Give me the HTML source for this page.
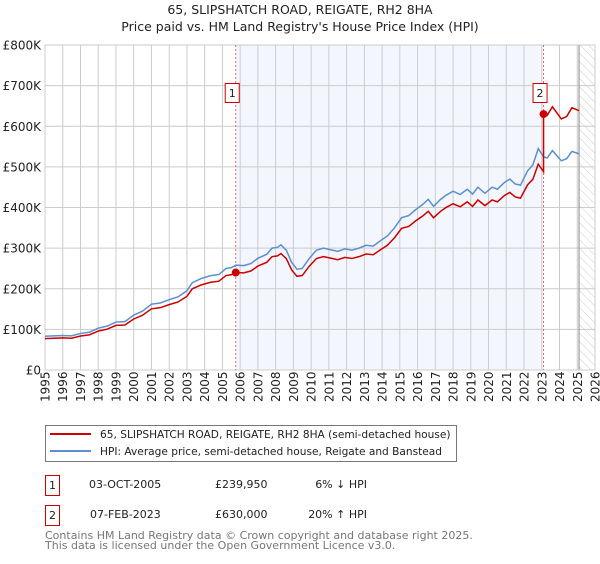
<!DOCTYPE html>
<html><head><meta charset="utf-8"><style>
body{margin:0;background:#fff;width:600px;height:560px;overflow:hidden;font-family:"DejaVu Sans","Liberation Sans",sans-serif}
svg text{font-family:"DejaVu Sans","Liberation Sans",sans-serif}
</style></head><body>
<svg id="chart" width="600" height="560" xmlns="http://www.w3.org/2000/svg">
<defs><pattern id="hatch" width="6" height="6" patternUnits="userSpaceOnUse" patternTransform="rotate(-45)"><line x1="0" y1="0" x2="0" y2="6" stroke="#ccc" stroke-width="1"/></pattern></defs>
<text x="300" y="14" text-anchor="middle" font-size="12.5" fill="#222">65, SLIPSHATCH ROAD, REIGATE, RH2 8HA</text>
<text x="300" y="31" text-anchor="middle" font-size="12.5" fill="#222">Price paid vs. HM Land Registry's House Price Index (HPI)</text>
<g id="plot"></g>
<rect x="45.5" y="425.5" width="411" height="36" fill="#fff" stroke="#777"/>
<line x1="50" y1="434" x2="91" y2="434" stroke="#cc0000" stroke-width="2"/>
<text x="100" y="438" font-size="10.6" fill="#222">65, SLIPSHATCH ROAD, REIGATE, RH2 8HA (semi-detached house)</text>
<line x1="50" y1="451" x2="91" y2="451" stroke="#5b8fd0" stroke-width="2"/>
<text x="100" y="455" font-size="10.6" fill="#222">HPI: Average price, semi-detached house, Reigate and Banstead</text>
<g font-size="11" fill="#222">
<rect x="45.5" y="475.5" width="14" height="20" fill="#fff" stroke="#cc0000"/>
<text x="52.5" y="489" text-anchor="middle">1</text>
<text x="89" y="488">03-OCT-2005</text><text x="215" y="488">£239,950</text><text x="367" y="488" text-anchor="end">6% ↓ HPI</text></g>
<g font-size="11" fill="#222">
<rect x="45.5" y="505.5" width="14" height="20" fill="#fff" stroke="#cc0000"/>
<text x="52.5" y="519" text-anchor="middle">2</text>
<text x="90" y="518">07-FEB-2023</text><text x="215" y="518">£630,000</text><text x="367" y="518" text-anchor="end">20% ↑ HPI</text></g>
<text x="45" y="539" font-size="11" fill="#777">Contains HM Land Registry data © Crown copyright and database right 2025.</text>
<text x="45" y="549" font-size="11" fill="#777">This data is licensed under the Open Government Licence v3.0.</text>
</svg>
<script>
const hpiYears=[1995,1995.5,1996,1996.5,1997,1997.5,1998,1998.5,1999,1999.5,2000,2000.5,2001,2001.5,2002,2002.5,2003,2003.3,2003.8,2004.3,2004.8,2005.2,2005.5,2005.75,2006.2,2006.6,2007,2007.5,2007.8,2008.1,2008.3,2008.6,2008.9,2009.2,2009.5,2009.9,2010.3,2010.7,2011.1,2011.5,2011.9,2012.3,2012.7,2013.1,2013.5,2013.9,2014.3,2014.7,2015.1,2015.5,2015.9,2016.3,2016.6,2016.9,2017.3,2017.6,2018,2018.4,2018.8,2019.1,2019.4,2019.8,2020.2,2020.5,2020.9,2021.2,2021.5,2021.8,2022.2,2022.5,2022.8,2023.1,2023.3,2023.6,2024.1,2024.4,2024.7,2025.1];
const hpiValues=[83,84,85,84,90,93,103,108,118,119,135,145,162,165,173,180,195,215,225,232,235,250,252,258,257,262,275,285,300,302,308,295,265,248,250,275,295,300,296,292,298,295,300,307,305,318,330,350,375,380,395,408,420,403,420,430,440,432,445,433,450,435,450,445,462,470,458,455,490,505,545,525,522,540,515,520,538,532];
const saleYears=[2005.75,2023.1];
const saleValues=[239950,630000];
const saleLabels=["1","2"];
const yTicks=[0,100,200,300,400,500,600,700,800];
const yTickLabels=["£0","£100K","£200K","£300K","£400K","£500K","£600K","£700K","£800K"];
const xTicks=[];for(let y=1995;y<=2026;y++)xTicks.push(y);
const L=45,R=595,T=45,B=370,X0=1995,X1=2026,YMAX=800;
const xs=v=>L+(v-X0)/(X1-X0)*(R-L);
const ys=v=>B-v/YMAX*(B-T);
const NS="http://www.w3.org/2000/svg";
const g=document.getElementById('plot');
function mk(tag,attrs,parent){const e=document.createElementNS(NS,tag);for(const k in attrs)e.setAttribute(k,attrs[k]);(parent||g).appendChild(e);return e;}
let e;
e=mk('rect',{x:xs(saleYears[0]),y:T,width:xs(saleYears[1])-xs(saleYears[0]),height:B-T,fill:'#eef2fc',opacity:0.7});


e=mk('rect',{x:xs(2025.1),y:T,width:R-xs(2025.1),height:B-T,fill:'url(#hatch)'});


yTicks.forEach((t,i)=>{
  mk('line',{x1:L,x2:R,y1:ys(t),y2:ys(t),stroke:'#ccc'});
  e=mk('text',{x:L-4,y:ys(t)+4.5,'text-anchor':'end','font-size':12,fill:'#222'});e.textContent=yTickLabels[i];
  
  
});
xTicks.forEach(t=>{
  mk('line',{x1:xs(t),x2:xs(t),y1:T,y2:B,stroke:'#ccc'});
  e=mk('text',{x:0,y:0,transform:`translate(${xs(t)+4.5},${B+32}) rotate(-90)`,'font-size':12,fill:'#222'});e.textContent=t;
  
  
});
mk('line',{x1:xs(2025.1),x2:xs(2025.1),y1:T,y2:B,stroke:'#888'});
mk('rect',{x:L,y:T,width:R-L,height:B-T,fill:'none',stroke:'#ccc'});
saleYears.forEach(s=>mk('line',{x1:xs(s),x2:xs(s),y1:T,y2:B,stroke:'#e06666','stroke-dasharray':'2,2'}));
function hpiAt(y){for(let i=1;i<hpiYears.length;i++)if(y<=hpiYears[i]){const f=(y-hpiYears[i-1])/(hpiYears[i]-hpiYears[i-1]);return hpiValues[i-1]+f*(hpiValues[i]-hpiValues[i-1]);}return hpiValues[hpiValues.length-1];}
const r1=saleValues[0]/1000/hpiAt(saleYears[0]), r2=saleValues[1]/1000/hpiAt(saleYears[1]);
let bp=hpiYears.map((y,i)=>`${xs(y)},${ys(hpiValues[i])}`).join(' ');
e=mk('polyline',{points:bp,fill:'none',stroke:'#5b8fd0','stroke-width':1.5});


let rp=[];
hpiYears.forEach((y,i)=>{if(y<saleYears[1])rp.push(`${xs(y)},${ys(hpiValues[i]*r1)}`);});
rp.push(`${xs(saleYears[1])},${ys(hpiAt(saleYears[1])*r1)}`);
rp.push(`${xs(saleYears[1])},${ys(hpiAt(saleYears[1])*r2)}`);
hpiYears.forEach((y,i)=>{if(y>saleYears[1])rp.push(`${xs(y)},${ys(hpiValues[i]*r2)}`);});
e=mk('polyline',{points:rp.join(' '),fill:'none',stroke:'#cc0000','stroke-width':1.5});


saleYears.forEach((s,i)=>{
  e=mk('circle',{cx:xs(s),cy:ys(saleValues[i]/1000),r:4,fill:'#cc0000'});
  
  
  e=mk('rect',{x:xs(s)-10.5,y:83.5,width:14,height:19,fill:'#fff',stroke:'#cc0000'});
  
  
  e=mk('text',{x:xs(s)-3.5,y:97,'text-anchor':'middle','font-size':11,fill:'#222'});e.textContent=saleLabels[i];
  
  
});
</script>
</body></html>
